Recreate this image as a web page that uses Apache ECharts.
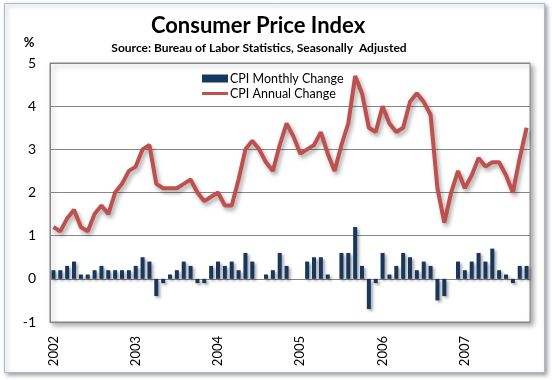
<!DOCTYPE html>
<html>
<head>
<meta charset="utf-8">
<script src="https://cdn.jsdelivr.net/npm/echarts@6/dist/echarts.min.js"></script>
<style>
html,body{margin:0;padding:0;background:#fff;}
#chart{width:552px;height:380px;}
</style>
</head>
<body>
<div id="chart"></div>
<script>
var years = ['2002','2003','2004','2005','2006','2007'];
var monthsInLastYear = 10;
var monthlyChange = [
  0.2,0.2,0.3,0.4,0.1,0.1,0.2,0.3,0.2,0.2,0.2,0.2,
  0.3,0.5,0.4,-0.4,-0.1,0.1,0.2,0.4,0.3,-0.1,-0.1,0.3,
  0.4,0.3,0.4,0.2,0.6,0.4,0.0,0.1,0.2,0.6,0.3,0.0,
  0.0,0.4,0.5,0.5,0.1,0.0,0.6,0.6,1.2,0.3,-0.7,-0.1,
  0.6,0.1,0.3,0.6,0.5,0.2,0.4,0.3,-0.5,-0.4,0.0,0.4,
  0.2,0.4,0.6,0.4,0.7,0.2,0.1,-0.1,0.3,0.3
];
var annualChange = [
  1.2,1.1,1.4,1.6,1.2,1.1,1.5,1.7,1.5,2.0,2.2,2.5,
  2.6,3.0,3.1,2.2,2.1,2.1,2.1,2.2,2.3,2.0,1.8,1.9,
  2.0,1.7,1.7,2.3,3.0,3.2,3.0,2.7,2.5,3.1,3.6,3.3,
  2.9,3.0,3.1,3.4,2.9,2.5,3.1,3.6,4.7,4.3,3.5,3.4,
  4.0,3.6,3.4,3.5,4.1,4.3,4.1,3.8,2.1,1.3,2.0,2.5,
  2.1,2.4,2.8,2.6,2.7,2.7,2.4,2.0,2.8,3.5
];
var yTicks = [-1,0,1,2,3,4,5];
var seriesNames = ['CPI Monthly Change','CPI Annual Change'];

var categories = [];
years.forEach(function(y, yi){
  var n = (yi === years.length - 1) ? monthsInLastYear : 12;
  for (var m = 1; m <= n; m++) categories.push(y + '-' + (m < 10 ? '0' + m : m));
});

var FONT = 'Lato, "Open Sans", sans-serif';
var chart = echarts.init(document.getElementById('chart'), null, {renderer:'canvas'});
chart.setOption({
  animation: false,
  backgroundColor: '#ffffff',
  graphic: [
    {type:'rect', z:-10, shape:{x:4.5,y:3.5,width:540,height:369},
     style:{fill:'#ffffff', stroke:'#a9b9d1', lineWidth:1,
            shadowBlur:4, shadowOffsetX:2, shadowOffsetY:2, shadowColor:'rgba(0,0,0,0.35)'}},
    {type:'text', x:258, y:26, z:10,
     style:{text:'Consumer Price Index', font:'bold 22px ' + FONT, fill:'#000',
            textAlign:'center', textVerticalAlign:'middle'}},
    {type:'text', x:259, y:48, z:10,
     style:{text:'Source: Bureau of Labor Statistics, Seasonally  Adjusted', font:'bold 12px ' + FONT, fill:'#000',
            textAlign:'center', textVerticalAlign:'middle'}},
    {type:'text', x:29, y:43, z:10,
     style:{text:'%', font:'bold 13px ' + FONT, fill:'#000',
            textAlign:'center', textVerticalAlign:'middle'}}
  ],
  legend: {
    orient:'vertical', left:197, top:67, itemWidth:26, itemHeight:8, itemGap:2,
    textStyle:{fontFamily:FONT, fontSize:12.5, color:'#000', padding:[0,0,0,-3]},
    data:[
      {name:seriesNames[0], icon:'rect'},
      {name:seriesNames[1], icon:'path://M0,0L26,0L26,3L0,3Z'}
    ]
  },
  grid: {left:50, right:22, top:63, bottom:58, show:true, borderColor:'#868686', borderWidth:1,
         backgroundColor:'#ffffff',
         shadowBlur:5, shadowOffsetX:3, shadowOffsetY:3, shadowColor:'rgba(0,0,0,0.35)'},
  xAxis: {
    type:'category', data:categories, boundaryGap:true,
    axisLine:{onZero:false, lineStyle:{color:'#868686'}},
    axisTick:{show:false},
    axisLabel:{interval:11, rotate:90, margin:14, fontFamily:FONT, fontSize:13, color:'#000',
      formatter:function(v){ return v.substring(0,4); }}
  },
  yAxis: {
    type:'value', min:yTicks[0], max:yTicks[yTicks.length-1], interval:1,
    axisLine:{show:true, lineStyle:{color:'#868686'}},
    axisTick:{show:false},
    splitLine:{lineStyle:{color:'#868686', width:1}},
    axisLabel:{margin:14, fontFamily:FONT, fontSize:14, color:'#000'}
  },
  series: [
    {name:seriesNames[0], type:'bar', data:monthlyChange, barWidth:4,
     itemStyle:{color:'#17375e', shadowBlur:3, shadowOffsetX:2, shadowOffsetY:2, shadowColor:'rgba(0,0,0,0.35)'}},
    {name:seriesNames[1], type:'line', data:annualChange, symbol:'none',
     lineStyle:{color:'#c0504d', width:4, shadowBlur:4, shadowOffsetX:2, shadowOffsetY:3, shadowColor:'rgba(0,0,0,0.35)'},
     itemStyle:{color:'#c0504d'}}
  ]
});
</script>
</body>
</html>
